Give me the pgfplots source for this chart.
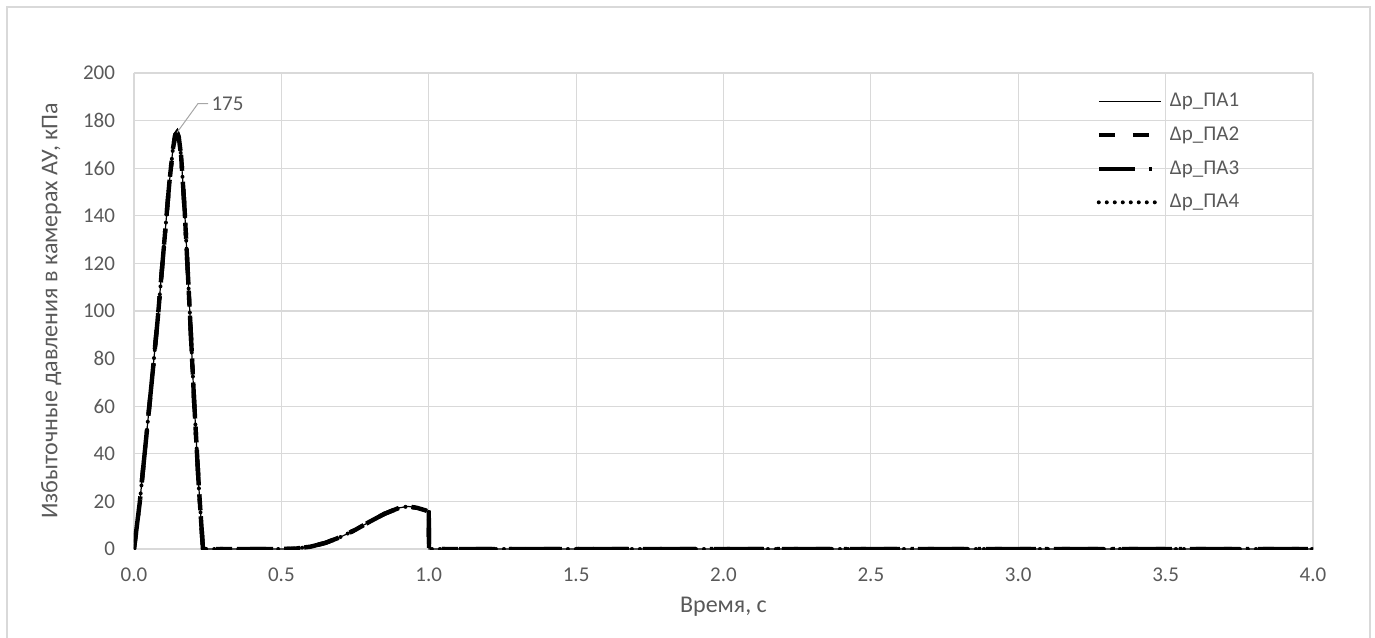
\documentclass[border=0pt]{standalone}
\usepackage{pgfplots}
\pgfplotsset{compat=1.18}
\usepackage{fontspec}
\setmainfont{Carlito}
\definecolor{txt}{HTML}{595959}
\definecolor{grd}{HTML}{D9D9D9}
\pgfplotstableread{
x y
0 0
0.02 20
0.04 45
0.06 70
0.08 96
0.10 125
0.12 154
0.132 168
0.14 174
0.146 175
0.152 173
0.16 165
0.172 142
0.188 103
0.204 62
0.22 26
0.234 0
0.3 0
0.5 0
0.55 0.2
0.6 1.0
0.65 2.6
0.7 5.0
0.75 8.0
0.8 11.5
0.85 14.8
0.9 17.3
0.93 17.9
0.96 17.3
0.99 16.2
1.0 15.5
1.001 0
4.0 0
}\data
\begin{document}
\begin{tikzpicture}
\path[use as bounding box] (-67pt,-44pt) rectangle (620.5pt,274.5pt);
\draw[grd, line width=0.6pt] (-63.5pt,-50pt) -- (-63.5pt,271pt) -- (618pt,271pt) -- (618pt,-50pt);
\begin{axis}[
  scale only axis, width=589.5pt, height=238pt,
  xmin=0, xmax=4, ymin=0, ymax=200,
  xtick={0,0.5,...,4}, ytick={0,20,...,200},
  /pgf/number format/assume math mode=true,
  tick label style={font=\fontsize{10.5}{12}\selectfont, text=txt},
  xticklabel style={yshift=-6pt, /pgf/number format/.cd, fixed, fixed zerofill, precision=1},
  yticklabel style={xshift=-6pt},
  major tick length=0pt,
  axis line style={draw=none},
  grid=major, grid style={grd, line width=0.6pt},
  xlabel={Время, с}, ylabel={Избыточные давления в камерах АУ, кПа},
  label style={font=\fontsize{12}{14}\selectfont, text=txt},
  xlabel style={yshift=-1pt},
  ylabel style={yshift=4pt},
  legend style={at={(0.811,0.975)}, anchor=north west, draw=none, fill=none,
    font=\fontsize{10.5}{12}\selectfont, text=txt, row sep=4.5pt,
    /tikz/every odd column/.append style={column sep=1.5pt}},
  legend cell align=left,
  legend image code/.code={\draw[#1] (0pt,0pt) -- (31pt,0pt);},
]
\addplot[black, line width=0.6pt] table[x=x,y=y]{\data};
\addlegendentry{Δр\_ПА1}
\addplot[black, line width=2.2pt, dash pattern=on 8pt off 9pt] table[x=x,y=y]{\data};
\addlegendentry{Δр\_ПА2}
\addplot[black, line width=2.2pt, dash pattern=on 18pt off 7pt on 1.5pt off 7pt] table[x=x,y=y]{\data};
\addlegendentry{Δр\_ПА3}
\addplot[black, line width=2pt, line cap=round, dash pattern=on 0pt off 4pt] table[x=x,y=y]{\data};
\addlegendentry{Δр\_ПА4}
\draw[gray!70, line width=0.5pt] (axis cs:0.146,175) -- ++(10.5pt,14.5pt) -- ++(5pt,0pt)
  node[right, inner sep=1.5pt, font=\fontsize{10.5}{12}\selectfont, text=txt] {175};
\end{axis}
\end{tikzpicture}
\end{document}
